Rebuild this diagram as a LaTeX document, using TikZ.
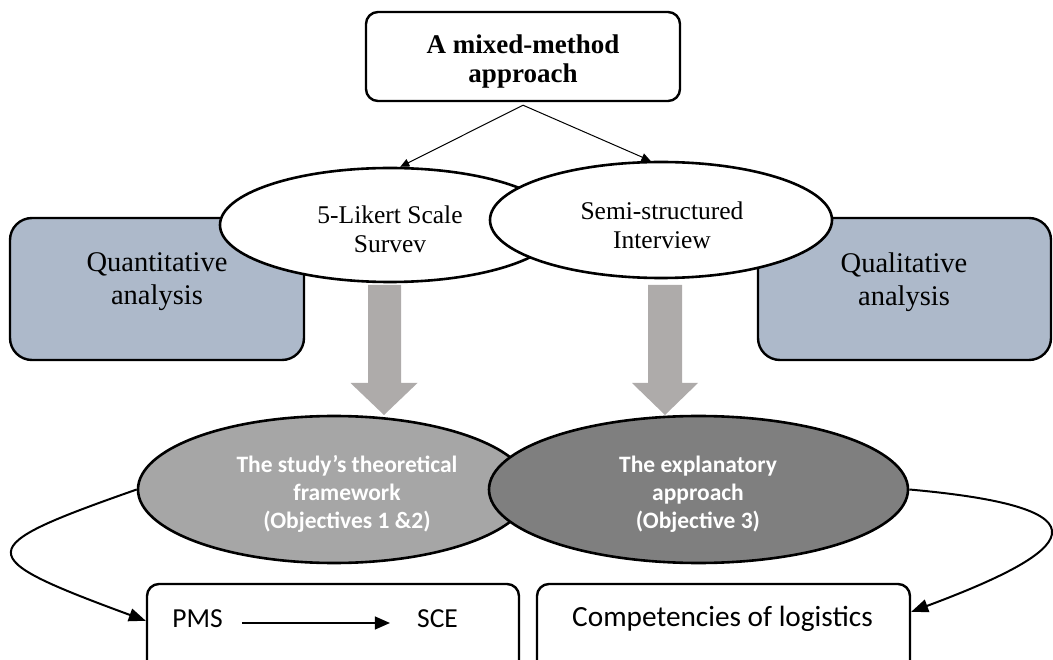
\documentclass[tikz,border=0pt]{standalone}
\usepackage{fontspec}
\setmainfont{Liberation Serif}
\newfontfamily\carlito{Carlito}
\usetikzlibrary{arrows.meta,calc,shapes.geometric}
\definecolor{slatefill}{HTML}{ADB9CA}
\definecolor{lightoval}{HTML}{A6A6A6}
\definecolor{darkoval}{HTML}{7F7F7F}
\definecolor{blockgray}{HTML}{AEABAA}
\begin{document}
\begin{tikzpicture}[x=1pt,y=-1pt,
  roundbox/.style={draw,line width=2.4pt,rounded corners=12pt,inner sep=0pt},
  oval/.style={ellipse,draw,line width=2.6pt,inner sep=0pt},
  serifbig/.style={inner sep=0pt,align=center,font=\fontsize{28.5}{33}\selectfont},
  serifmid/.style={inner sep=0pt,align=center,font=\fontsize{25.5}{29}\selectfont},
  ovaltext/.style={inner sep=0pt,align=center,text=white,font=\carlito\bfseries\fontsize{23.5}{28}\selectfont},
  sanstext/.style={inner sep=0pt,anchor=base,font=\carlito\fontsize{27.5}{32}\selectfont},
  thinarrow/.style={line width=1pt,-{Triangle[length=9pt,width=8pt]}},
  curvearrow/.style={line width=2pt,-{Triangle[length=17pt,width=13pt]}},
  blockarrow/.style={fill=blockgray,draw=none}]
\useasboundingbox (0,0) rectangle (1053,660);
\clip (0,0) rectangle (1053,660);

% analysis boxes at the sides
\node[roundbox,fill=slatefill,rounded corners=22pt,minimum width=294pt,minimum height=142pt] (quant) at (157,289) {};
\node[serifbig] (quanttxt) at (157,282) {Quantitative\\analysis};
\node[roundbox,fill=slatefill,rounded corners=22pt,minimum width=293pt,minimum height=142pt] (qual) at (904.5,289) {};
\node[serifbig] (qualtxt) at (904,282) {Qualitative\\analysis};

% data collection ellipses
\node[oval,fill=white,minimum width=340pt,minimum height=114pt] (likert) at (390,225) {};
\node[serifmid] (likerttxt) at (390,229) {5-Likert Scale\\Survev};
\node[oval,fill=white,minimum width=342pt,minimum height=116pt] (interview) at (661,220) {};
\node[serifmid] (interviewtxt) at (662,225.5) {Semi-structured\\Interview};

% overall approach
\node[roundbox,fill=white,minimum width=314pt,minimum height=89pt] (mixed) at (523,56.5) {};
\node[inner sep=0pt,align=center,font=\bfseries\fontsize{27}{29}\selectfont] (mixedtxt) at (523,61.5) {A mixed-method\\approach};

\draw[thinarrow] ([yshift=-3pt]mixed.south) -- (likert.80);
\draw[thinarrow] ([yshift=-3pt]mixed.south) -- (interview.100);

% block arrows
\path[blockarrow] (368,285) -- (401,285) -- (401,383) -- (417.5,383) -- (384,415)
  -- (350.5,383) -- (368,383) -- cycle;
\path[blockarrow] (648,285) -- (682,285) -- (682,383) -- (698,383) -- (665,415)
  -- (632,383) -- (648,383) -- cycle;

% outcome ellipses
\node[oval,fill=lightoval,minimum width=392pt,minimum height=147pt] (theory) at (334,489.5) {};
\node[oval,fill=darkoval,minimum width=419pt,minimum height=147pt] (explain) at (698.5,489.5) {};
\node[ovaltext] (theorytxt) at (347,494) {The study’s theoretical\\framework\\(Objectives 1 \&2)};
\node[ovaltext] (explaintxt) at (698,494) {The explanatory\\approach\\(Objective 3)};

% result boxes
\node[roundbox,minimum width=372pt,minimum height=150pt] (pmsbox) at (333,659) {};
\node[roundbox,minimum width=373pt,minimum height=150pt] (compbox) at (723.5,659) {};
\node[sanstext] (pms) at (197.5,627) {PMS};
\node[sanstext] (sce) at (437.5,627) {SCE};
\node[sanstext,font=\carlito\fontsize{29.3}{34}\selectfont] (comp) at (722.5,626) {Competencies of logistics};
\draw[line width=1.2pt,-{Triangle[length=15pt,width=13pt]}]
  ([xshift=19pt,yshift=4pt]pms.base east) -- ([xshift=-27pt,yshift=4pt]sce.base west);

% links from outcomes to results
\coordinate (inleft) at ($(pmsbox.north west)+(0,38)$);
\coordinate (inright) at ($(compbox.north east)+(0,29)$);
\draw[curvearrow] (theory.west) .. controls (-30,548) and (-30,556) .. (inleft);
\draw[curvearrow] (explain.east) .. controls (1140,510) and (1050,560) .. (inright);
\end{tikzpicture}
\end{document}
